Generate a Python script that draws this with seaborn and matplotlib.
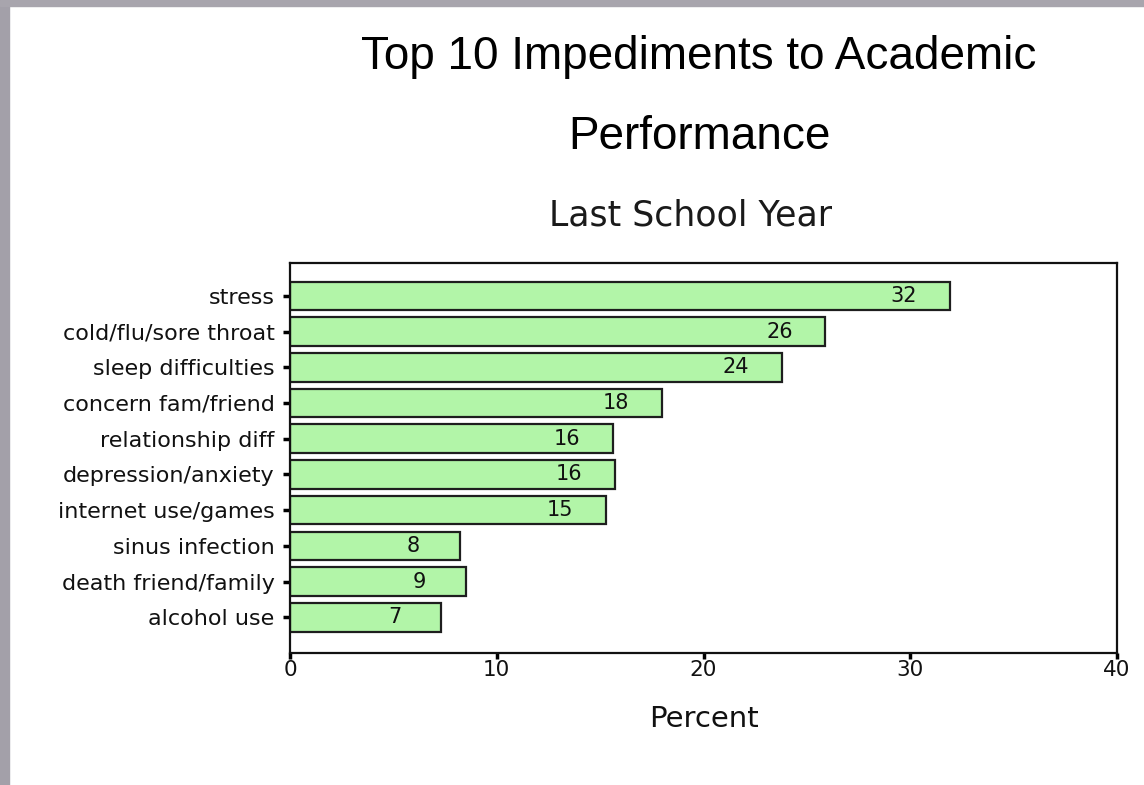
import pandas as pd
import seaborn as sns
import matplotlib.pyplot as plt
from matplotlib.patches import Rectangle

# data
causes = ["stress", "cold/flu/sore throat", "sleep difficulties", "concern fam/friend",
          "relationship diff", "depression/anxiety", "internet use/games",
          "sinus infection", "death friend/family", "alcohol use"]
percent = [31.9, 25.9, 23.8, 18.0, 15.6, 15.7, 15.3, 8.2, 8.5, 7.3]
shown = ["32", "26", "24", "18", "16", "16", "15", "8", "9", "7"]
x_ticks = [0, 10, 20, 30, 40]

df = pd.DataFrame({"cause": causes, "percent": percent})

sns.set_theme(style="white")
plt.rcParams["font.family"] = ["DejaVu Sans"]

fig = plt.figure(figsize=(11.44, 7.85), dpi=100)
fig.patch.set_facecolor("white")
ax = fig.add_axes([290 / 1144, 1 - 653 / 785, 827 / 1144, 390 / 785])

sns.barplot(data=df, x="percent", y="cause", orient="h", color="#b2f5a8",
            saturation=1, edgecolor="#1e1e1e", linewidth=1.6, width=0.8, ax=ax)

# value labels sit inside the bar, near its end
for i, (v, s) in enumerate(zip(percent, shown)):
    ax.annotate(s, (v, i), xytext=(-46, 0), textcoords="offset pixels",
                ha="center", va="center", fontsize=15, color="#111111")

ax.set_xlim(0, 40)
ax.set_ylim(10.0, -0.92)
ax.set_xticks(x_ticks)
ax.set_xlabel("Percent", fontsize=21, color="#111111", labelpad=18)
ax.set_ylabel("")
ax.tick_params(axis="y", direction="out", length=5, width=2.5, color="black",
               labelsize=16, pad=6, left=True, labelcolor="#111111")
ax.tick_params(axis="x", direction="out", length=4, width=2.5, color="black",
               labelsize=15.5, pad=1, bottom=True, labelcolor="#111111")
for sp in ax.spines.values():
    sp.set_color("#111111")
    sp.set_linewidth(1.6)

fig.text(0.611, 1 - 57 / 785, "Top 10 Impediments to Academic", ha="center", va="center",
         fontsize=33, color="black", family="Liberation Sans")
fig.text(0.611, 1 - 137 / 785, "Performance", ha="center", va="center",
         fontsize=33, color="black", family="Liberation Sans")
fig.text(0.6035, 1 - 215 / 785, "Last School Year", ha="center", va="center",
         fontsize=25, color="#1a1a1a")

# gray slide border at left and top
fig.add_artist(Rectangle((0, 0), 9 / 1144, 1, transform=fig.transFigure,
                         color="#a3a0a9", zorder=5))
fig.add_artist(Rectangle((0, 1 - 6 / 785), 1, 6 / 785, transform=fig.transFigure,
                         color="#a8a5ad", zorder=5))

fig.savefig("out.png", dpi=100)
